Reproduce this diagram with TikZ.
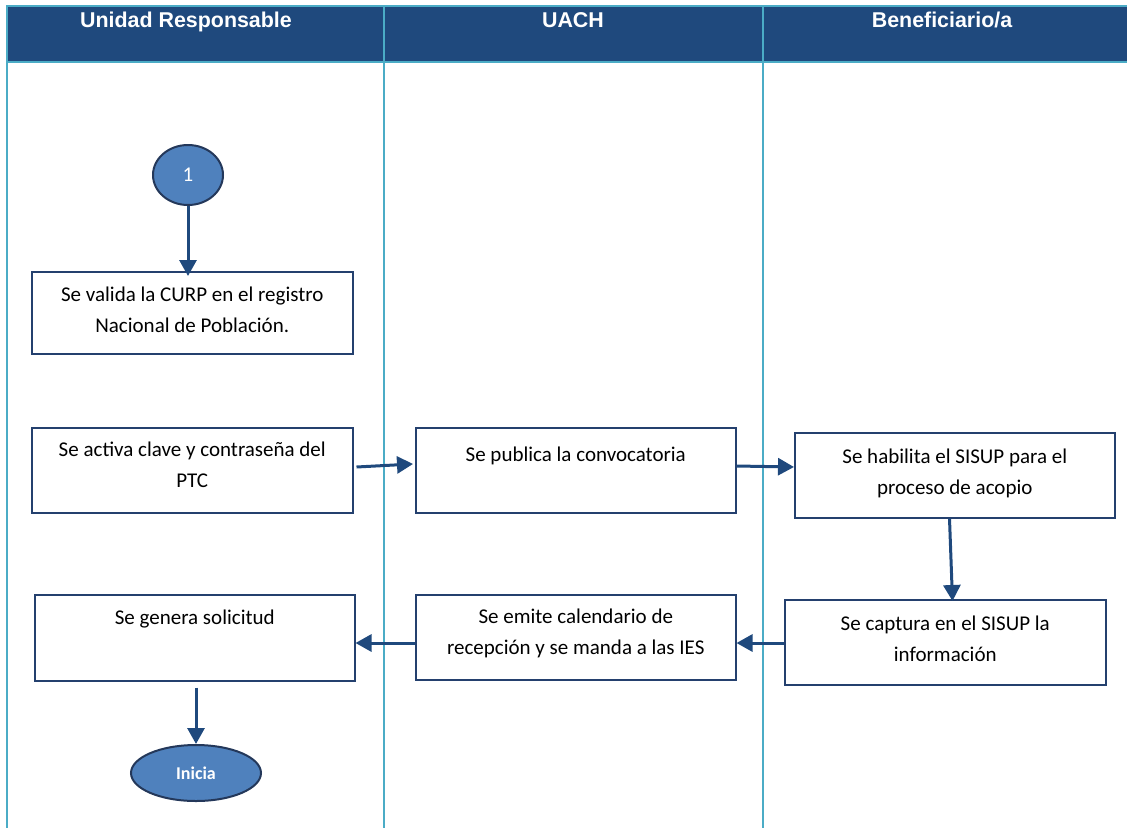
\documentclass[tikz,border=0pt]{standalone}
\usepackage{fontspec}
\setmainfont{Carlito}
\newfontfamily\hdrfont{Liberation Sans}
\usetikzlibrary{arrows.meta,shapes.geometric}
\definecolor{hdr}{RGB}{31,73,125}
\definecolor{lane}{RGB}{75,172,198}
\definecolor{boxline}{RGB}{36,64,110}
\definecolor{arr}{RGB}{31,73,125}
\definecolor{ovfill}{RGB}{79,129,189}
\definecolor{ovline}{RGB}{36,56,90}
\tikzset{
  box/.style={draw=boxline, line width=1.5pt, rectangle, inner sep=0pt, anchor=north west},
  txt/.style={font=\fontsize{21}{30.5}\selectfont, align=center, inner sep=0pt, anchor=north, text=black},
  hdrtxt/.style={font=\hdrfont\fontsize{21.4}{24}\selectfont\bfseries, text=white, anchor=north, inner sep=0pt},
  flow/.style={draw=arr, line width=3pt, -{Triangle[length=16pt,width=17pt]}},
  oval/.style={ellipse, draw=ovline, line width=2pt, fill=ovfill, inner sep=0pt, text=white},
  laneline/.style={draw=lane, line width=1.5pt}
}
\begin{document}
\begin{tikzpicture}[x=1pt,y=-1pt]
\useasboundingbox (0,0) rectangle (1127,828);
% header
\fill[hdr] (7,6) rectangle (1127,62);
\draw[laneline] (1127,6) -- (7,6) -- (7,828);
\draw[laneline] (7,62) -- (1127,62);
\draw[laneline] (384,6) -- (384,828);
\draw[laneline] (763,6) -- (763,828);
\node[hdrtxt] (h1) at (186,12) {Unidad Responsable};
\node[hdrtxt] (h2) at (573,12) {UACH};
\node[hdrtxt] (h3) at (942,12) {Beneficiario/a};
% start circle
\node[oval, minimum width=70pt, minimum height=60pt, font=\fontsize{21}{22}\selectfont] (c1) at (188,175) {1};
% boxes
\node[box, minimum width=321pt, minimum height=82pt] (b1) at (31,271) {};
\node[txt] (t1) at ([yshift=-16pt]b1.north) {Se valida la CURP en el registro\\Nacional de Población.};
\node[box, minimum width=321pt, minimum height=85pt] (b2) at (31,427) {};
\node[txt] (t2) at ([yshift=-15pt]b2.north) {Se activa clave y contraseña del\\PTC};
\node[box, minimum width=320pt, minimum height=85pt] (b3) at (415,427) {};
\node[txt] (t3) at ([yshift=-20pt]b3.north) {Se publica la convocatoria};
\node[box, minimum width=320pt, minimum height=85pt] (b4) at (794,432) {};
\node[txt] (t4) at ([yshift=-17pt]b4.north) {Se habilita el SISUP para el\\proceso de acopio};
\node[box, minimum width=321pt, minimum height=85pt] (b5) at (784,599) {};
\node[txt] (t5) at ([yshift=-17pt]b5.north) {Se captura en el SISUP la\\información};
\node[box, minimum width=320pt, minimum height=85pt] (b6) at (415,594) {};
\node[txt] (t6) at ([yshift=-15pt]b6.north) {Se emite calendario de\\recepción y se manda a las IES};
\node[box, minimum width=320pt, minimum height=86pt] (b7) at (34,594) {};
\node[txt] (t7) at ([yshift=-16pt]b7.north) {Se genera solicitud};
% end ellipse
\node[oval, minimum width=130pt, minimum height=56pt, font=\fontsize{18}{20}\selectfont\bfseries] (e1) at (196,773) {Inicia};
% connectors
\draw[flow] (c1.south) -- ([yshift=-5pt]b1.north -| c1.south);
\draw[flow] ([xshift=3pt,yshift=-40pt]b2.north east) -- ([xshift=-2pt,yshift=-37pt]b3.north west);
\draw[flow] ([yshift=-39pt]b3.north east) -- ([yshift=-35pt]b4.north west);
\draw[flow] ([xshift=-166pt]b4.south east) -- ([xshift=-154pt,yshift=-2pt]b5.north east);
\draw[flow] ([yshift=-44pt]b5.north west) -- ([yshift=-49pt]b6.north east);
\draw[flow] ([yshift=-49pt]b6.north west) -- ([yshift=-49pt]b7.north east);
\draw[flow] ([yshift=-6pt]b7.south -| e1.north) -- (e1.north);
\end{tikzpicture}
\end{document}
